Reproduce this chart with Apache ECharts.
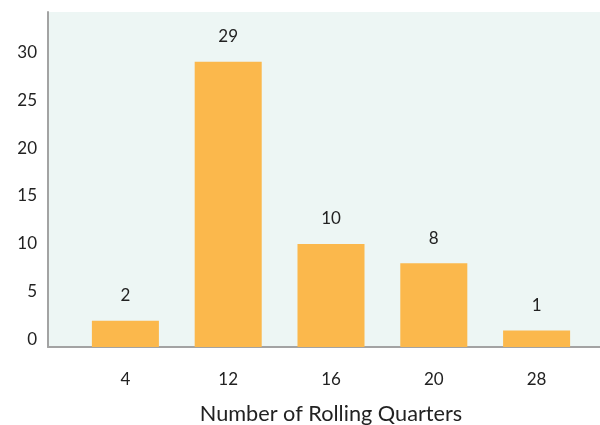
<!DOCTYPE html>
<html>
<head>
<meta charset="utf-8">
<script src="https://cdn.jsdelivr.net/npm/echarts@6/dist/echarts.min.js"></script>
<style>html,body{margin:0;padding:0;background:#fff}#c{width:600px;height:425px}</style>
</head>
<body>
<div id="c"></div>
<script>
const categories = ['4', '12', '16', '20', '28'];
const counts = [2, 29, 10, 8, 1];
const yTicks = [0, 5, 10, 15, 20, 25, 30];
const xTitle = 'Number of Rolling Quarters';

const Y_MIN = -0.73, Y_MAX = 34.17;
const BAR = '#FBB84C', TXT = '#222222', FONT = 'Lato';

const chart = echarts.init(document.getElementById('c'));
chart.setOption({
  animation: false,
  textStyle: { fontFamily: FONT },
  grid: [
    { left: 74, right: 12, top: 12, bottom: 78, outerBoundsMode: 'none', containLabel: false },
    { left: 48, right: 0, top: 12, bottom: 78, outerBoundsMode: 'none', containLabel: false,
      show: true, backgroundColor: '#EDF6F4', borderWidth: 0, z: 0 }
  ],
  xAxis: [
    { gridIndex: 0, type: 'category', data: categories,
      axisLine: { show: false, onZero: false }, axisTick: { show: false },
      axisLabel: { color: TXT, fontSize: 17, fontFamily: FONT, margin: 24 },
      name: xTitle, nameLocation: 'middle', nameGap: 56,
      nameTextStyle: { color: TXT, fontSize: 21.7, fontFamily: FONT } },
    { gridIndex: 1, type: 'category', data: [''],
      axisLine: { show: true, onZero: false, lineStyle: { color: '#A3A3A3', width: 2 } },
      axisTick: { show: false }, axisLabel: { show: false } }
  ],
  yAxis: [
    { gridIndex: 0, type: 'value', min: Y_MIN, max: Y_MAX, show: false, splitLine: { show: false } },
    { gridIndex: 1, type: 'value', min: Y_MIN, max: Y_MAX,
      axisLine: { show: true, onZero: false, lineStyle: { color: '#A3A3A3', width: 2 } },
      axisTick: { show: false }, splitLine: { show: false },
      axisLabel: { color: TXT, fontSize: 17, fontFamily: FONT, margin: 11, customValues: yTicks } }
  ],
  series: [
    { type: 'custom', xAxisIndex: 0, yAxisIndex: 0, z: 3,
      data: counts.map((v, i) => [i, v]),
      encode: { x: 0, y: 1 },
      renderItem: function (params, api) {
        const i = api.value(0), v = api.value(1);
        const top = api.coord([i, v]);
        const base = api.coord([i, Y_MIN]);
        const w = api.size([1, 0])[0] * 0.652;
        return {
          type: 'group',
          children: [
            { type: 'rect', shape: { x: top[0] - w / 2, y: top[1], width: w, height: base[1] - top[1] },
              style: { fill: BAR } },
            { type: 'text', x: top[0], y: top[1] - 25,
              style: { text: String(v), fill: TXT, font: '17px ' + FONT, align: 'center', verticalAlign: 'middle' } }
          ]
        };
      } }
  ]
});
</script>
</body>
</html>
